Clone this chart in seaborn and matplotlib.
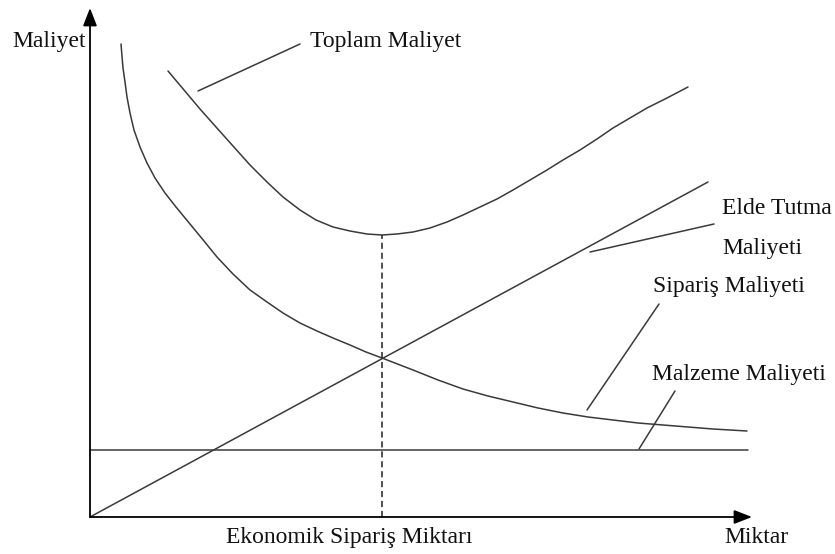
import numpy as np
import pandas as pd
import matplotlib
matplotlib.use("Agg")
import matplotlib.pyplot as plt
import seaborn as sns

# values (units: pixels from the origin of the diagram)
order_x = [31, 32, 33, 35, 37, 40, 44, 50, 57, 65, 75, 86, 100, 114, 127, 143, 160, 177, 193, 210,
           227, 243, 260, 276, 292, 323, 348, 373, 398, 423, 448, 473, 498, 523, 548, 573, 598, 623, 657]
order_y = [473, 461, 449, 435, 420, 404, 387, 370, 354, 339, 324, 310, 293, 276, 260, 243, 227, 215, 204, 194,
           186, 179, 172, 165, 159, 147, 137, 128, 121, 115, 109, 104, 100, 97, 94, 92, 90, 88, 86]

total_x = [78, 94, 110, 126, 143, 160, 177, 193, 210, 226, 243, 260, 277, 292, 307, 323,
           340, 357, 373, 390, 407, 423, 440, 457, 473, 490, 507, 523, 540, 557, 577, 598]
total_y = [446, 427, 408, 390, 371, 352, 335, 320, 307, 297, 290, 286, 283, 282, 283, 285,
           289, 295, 302, 310, 318, 327, 337, 347, 357, 367, 378, 389, 399, 409, 419, 430]

holding_x = [0, 618]
holding_y = [0, 335]

material_x = [0, 658]
material_y = [67, 67]

eoq_x = 292
eoq_top = 282
x_axis_end = 662
y_axis_end = 509

# label text, anchor and leader line (start -> end)
labels = ["Toplam Maliyet", "Elde Tutma", "Maliyeti", "Sipariş Maliyeti", "Malzeme Maliyeti"]
label_x = [220, 632, 632, 563, 562]
label_y = [470, 303, 263, 225, 137]
leaders = [
    ((108, 426), (210, 473)),
    ((500, 265), (624, 293)),
    ((497, 107), (569, 213)),
    ((549, 68), (585, 126)),
]

sns.set_theme(style="white")
plt.rcParams["font.family"] = ["Liberation Serif", "DejaVu Serif"]

fig = plt.figure(figsize=(8.35, 5.54), dpi=100)
ax = fig.add_axes([0, 0, 1, 1])
ax.set_xlim(-90, 745)
ax.set_ylim(-37, 517)
ax.axis("off")

line_col = "#3a3a3a"
lw = 1.1

curves = pd.concat([
    pd.DataFrame({"x": order_x, "y": order_y, "curve": "siparis"}),
    pd.DataFrame({"x": total_x, "y": total_y, "curve": "toplam"}),
    pd.DataFrame({"x": holding_x, "y": holding_y, "curve": "elde"}),
    pd.DataFrame({"x": material_x, "y": material_y, "curve": "malzeme"}),
], ignore_index=True)

sns.lineplot(
    data=curves, x="x", y="y", units="curve", estimator=None, sort=False,
    color=line_col, linewidth=lw, ax=ax, legend=False
)

# EOQ dashed line
ax.plot([eoq_x, eoq_x], [0, eoq_top], color="#222222", linewidth=1.1, linestyle=(0, (4, 2.5)))

# axes with arrows
arrow = dict(arrowstyle="-|>,head_length=0.9,head_width=0.35", color="black", lw=1.3, shrinkA=0, shrinkB=0)
ax.annotate("", xy=(0, y_axis_end), xytext=(0, 0), arrowprops=arrow)
ax.annotate("", xy=(x_axis_end, 0), xytext=(0, 0), arrowprops=arrow)

# leader lines
for (x0, y0), (x1, y1) in leaders:
    ax.plot([x0, x1], [y0, y1], color=line_col, linewidth=lw)

fs = 17
for txt, tx, ty in zip(labels, label_x, label_y):
    ax.text(tx, ty, txt, fontsize=fs, va="baseline", ha="left", color="#111111")

ax.text(-78, 470, "Maliyet", fontsize=fs, va="baseline", ha="left", color="#111111")
ax.text(136, -26, "Ekonomik Sipariş Miktarı", fontsize=fs, va="baseline", ha="left", color="#111111")
ax.text(634, -26, "Miktar", fontsize=fs, va="baseline", ha="left", color="#111111")

fig.savefig("out.png", dpi=100)
